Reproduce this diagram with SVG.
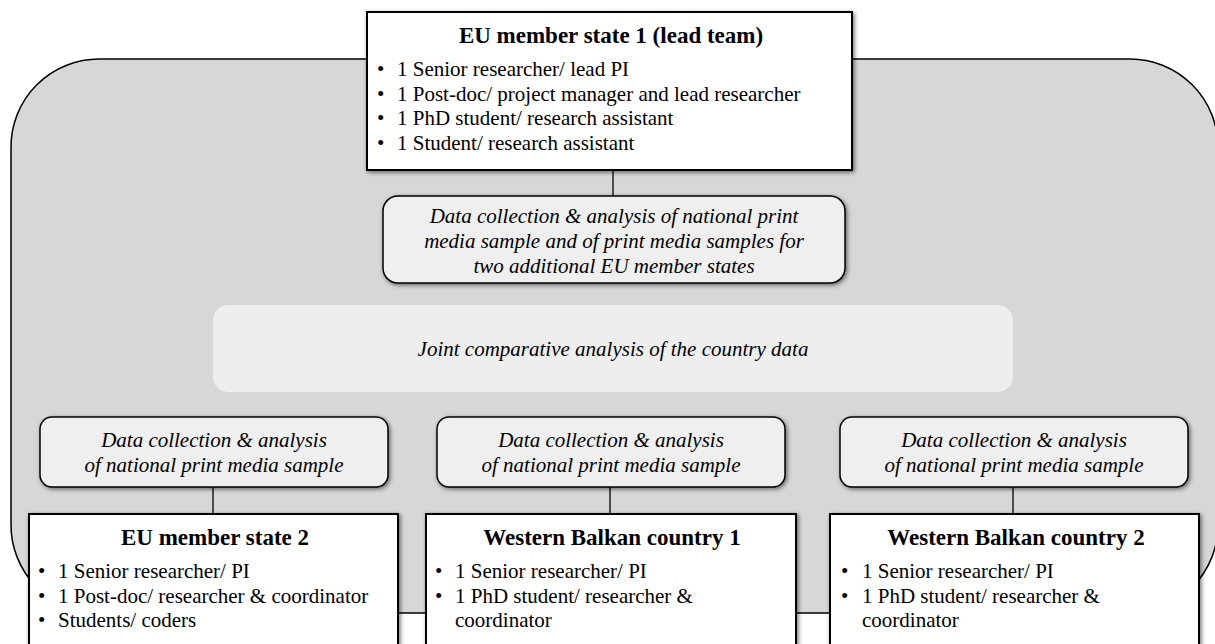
<svg xmlns="http://www.w3.org/2000/svg" width="1215" height="644" viewBox="0 0 1215 644">
<defs>
<filter id="sh" x="-10%" y="-20%" width="120%" height="140%">
<feDropShadow dx="1.5" dy="1.5" stdDeviation="2" flood-color="#000" flood-opacity="0.55"/>
</filter>
<style>
.team{fill:#fff;stroke:#000;stroke-width:2;filter:url(#sh)}
.task{fill:#efefef;stroke:#000;stroke-width:1.5;filter:url(#sh)}
.joint{fill:#eeeeee;stroke:none}
.conn{stroke:#000;stroke-width:1.3;fill:none}
text{font-family:"Liberation Serif","Times New Roman",serif;fill:#000}
.title{font-size:23px;font-weight:bold;text-anchor:middle}
.item{font-size:21px}
.it{font-size:21px;font-style:italic;text-anchor:middle}
</style>
</defs>
<rect width="1215" height="644" fill="#fff"/>
<g id="frame">
<rect x="11" y="59" width="1207" height="554" rx="88" ry="88" fill="#d7d7d7" stroke="#000" stroke-width="1.5"/>
</g>
<g id="connectors">
<line class="conn" x1="613" y1="170" x2="613" y2="196"/>
<line class="conn" x1="213" y1="487" x2="213" y2="514"/>
<line class="conn" x1="610" y1="487" x2="610" y2="514"/>
<line class="conn" x1="1013" y1="487" x2="1013" y2="514"/>
</g>
<g id="lead">
<rect class="team" x="367" y="12" width="485" height="158"/>
<text class="title" x="611" y="43">EU member state 1 (lead team)</text>
<text class="item" x="377" y="76">•</text><text class="item" x="397" y="76">1 Senior researcher/ lead PI</text>
<text class="item" x="377" y="101">•</text><text class="item" x="397" y="101">1 Post-doc/ project manager and lead researcher</text>
<text class="item" x="377" y="125">•</text><text class="item" x="397" y="125">1 PhD student/ research assistant</text>
<text class="item" x="377" y="150">•</text><text class="item" x="397" y="150">1 Student/ research assistant</text>
</g>
<g id="lead-task">
<rect class="task" x="383" y="196" width="462" height="87" rx="15" ry="15"/>
<text class="it" x="614" y="223">Data collection &amp; analysis of national print</text>
<text class="it" x="614" y="248">media sample and of print media samples for</text>
<text class="it" x="614" y="273">two additional EU member states</text>
</g>
<g id="joint">
<rect class="joint" x="213" y="305" width="800" height="87" rx="15" ry="15"/>
<text class="it" x="613" y="356">Joint comparative analysis of the country data</text>
</g>
<g id="task1">
<rect class="task" x="40" y="417" width="348" height="70" rx="12" ry="12"/>
<text class="it" x="214" y="447">Data collection &amp; analysis</text>
<text class="it" x="214" y="472">of national print media sample</text>
</g>
<g id="task2">
<rect class="task" x="437" y="417" width="348" height="70" rx="12" ry="12"/>
<text class="it" x="611" y="447">Data collection &amp; analysis</text>
<text class="it" x="611" y="472">of national print media sample</text>
</g>
<g id="task3">
<rect class="task" x="840" y="417" width="348" height="70" rx="12" ry="12"/>
<text class="it" x="1014" y="447">Data collection &amp; analysis</text>
<text class="it" x="1014" y="472">of national print media sample</text>
</g>
<g id="eu2">
<rect class="team" x="29" y="514" width="369" height="150"/>
<text class="title" x="215" y="545">EU member state 2</text>
<text class="item" x="38" y="578">•</text><text class="item" x="58" y="578">1 Senior researcher/ PI</text>
<text class="item" x="38" y="603">•</text><text class="item" x="58" y="603">1 Post-doc/ researcher &amp; coordinator</text>
<text class="item" x="38" y="627">•</text><text class="item" x="58" y="627">Students/ coders</text>
</g>
<g id="wb1">
<rect class="team" x="426" y="514" width="370" height="150"/>
<text class="title" x="612" y="545">Western Balkan country 1</text>
<text class="item" x="435" y="578">•</text><text class="item" x="455" y="578">1 Senior researcher/ PI</text>
<text class="item" x="435" y="603">•</text><text class="item" x="455" y="603">1 PhD student/ researcher &amp;</text>
<text class="item" x="455" y="627">coordinator</text>
</g>
<g id="wb2">
<rect class="team" x="830" y="514" width="369" height="150"/>
<text class="title" x="1016" y="545">Western Balkan country 2</text>
<text class="item" x="841" y="578">•</text><text class="item" x="862" y="578">1 Senior researcher/ PI</text>
<text class="item" x="841" y="603">•</text><text class="item" x="862" y="603">1 PhD student/ researcher &amp;</text>
<text class="item" x="862" y="627">coordinator</text>
</g>
</svg>
